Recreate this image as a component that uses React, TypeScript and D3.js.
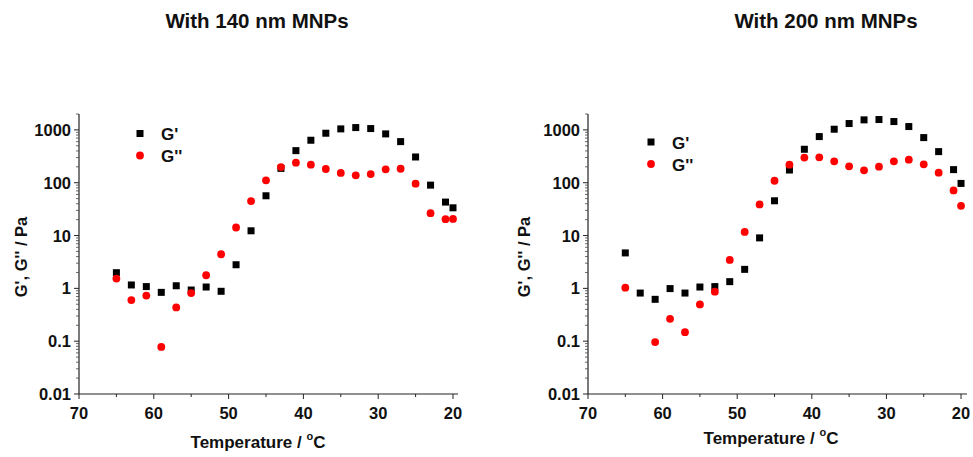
import React, { useEffect, useRef } from "react";
import * as d3 from "d3";

const temps = [65, 63, 61, 59, 57, 55, 53, 51, 49, 47, 45, 43, 41, 39, 37, 35, 33, 31, 29, 27, 25, 23, 21, 20];

// 140 nm MNPs
const g1Storage = [1.98, 1.16, 1.08, 0.84, 1.12, 0.93, 1.06, 0.88, 2.8, 12.3, 56.6, 187, 405, 637, 865, 1045, 1107, 1060, 840, 600, 307, 90, 43, 33.5];
const g1Loss = [1.53, 0.6, 0.73, 0.078, 0.436, 0.815, 1.77, 4.42, 14.2, 44.9, 111, 198, 240, 220, 182, 153, 138, 146, 179, 184, 96, 26.5, 20.4, 20.6];

// 200 nm MNPs (no G'' reading at 63 °C)
const g2Storage = [4.69, 0.815, 0.62, 0.99, 0.815, 1.06, 1.08, 1.34, 2.29, 9.03, 45.5, 174, 430, 747, 1030, 1320, 1549, 1571, 1439, 1157, 715, 388, 177, 97];
const g2Loss = [1.03, null, 0.096, 0.265, 0.148, 0.497, 0.865, 3.45, 11.7, 38.8, 109, 220, 299, 303, 254, 204, 172, 201, 254, 273, 223, 155, 71.5, 36.6];

const xTicks = [70, 60, 50, 40, 30, 20];
const yTicks = [0.01, 0.1, 1, 10, 100, 1000];
const legendLabels = ["G'", "G''"];
const titles = ["With 140 nm MNPs", "With 200 nm MNPs"];

const font = "Arial, 'Liberation Sans', sans-serif";

function drawPanel(svg, opts) {
  const { left, right, top, bottom, xEnd, storage, loss, title, titleX, legend, ylabelX, xlabelX, xlabelY } = opts;
  const g = svg.append("g");

  const x = d3.scaleLinear().domain([70, xEnd]).range([left, right]);
  const y = d3.scaleLog().domain([0.01, 2000]).range([bottom, top]);

  // axes lines
  g.append("line").attr("x1", left).attr("x2", left).attr("y1", top).attr("y2", bottom)
    .attr("stroke", "#222").attr("stroke-width", 1.2);
  g.append("line").attr("x1", left).attr("x2", right).attr("y1", bottom).attr("y2", bottom)
    .attr("stroke", "#222").attr("stroke-width", 1.2);

  // x ticks
  const xMinor = d3.range(65, 19, -10);
  g.selectAll(".xt").data(xTicks).enter().append("line")
    .attr("x1", (d) => x(d)).attr("x2", (d) => x(d))
    .attr("y1", bottom).attr("y2", bottom + 5).attr("stroke", "#222");
  g.selectAll(".xm").data(xMinor).enter().append("line")
    .attr("x1", (d) => x(d)).attr("x2", (d) => x(d))
    .attr("y1", bottom).attr("y2", bottom + 3).attr("stroke", "#222");
  g.selectAll(".xl").data(xTicks).enter().append("text")
    .attr("x", (d) => x(d)).attr("y", bottom + 25)
    .attr("text-anchor", "middle").attr("font-family", font).attr("font-weight", "bold")
    .attr("font-size", 16.5).attr("fill", "#111").text((d) => d);

  // y ticks
  const yMinor = [];
  yTicks.forEach((t) => {
    for (let k = 2; k <= 9; k++) if (t * k <= 2000) yMinor.push(t * k);
  });
  g.selectAll(".yt").data(yTicks).enter().append("line")
    .attr("x1", left - 5).attr("x2", left)
    .attr("y1", (d) => y(d)).attr("y2", (d) => y(d)).attr("stroke", "#222");
  g.selectAll(".ym").data(yMinor).enter().append("line")
    .attr("x1", left - 3).attr("x2", left)
    .attr("y1", (d) => y(d)).attr("y2", (d) => y(d)).attr("stroke", "#444").attr("stroke-width", 0.8);
  g.selectAll(".yl").data(yTicks).enter().append("text")
    .attr("x", left - 8).attr("y", (d) => y(d) + 6)
    .attr("text-anchor", "end").attr("font-family", font).attr("font-weight", "bold")
    .attr("font-size", 16.5).attr("fill", "#111").text((d) => String(d));

  // axis titles
  g.append("text")
    .attr("transform", `translate(${ylabelX},${(top + bottom) / 2 + 3}) rotate(-90)`)
    .attr("text-anchor", "middle").attr("font-family", font).attr("font-weight", "bold")
    .attr("font-size", 16.5).attr("fill", "#111").text("G', G'' / Pa");

  const xl = g.append("text")
    .attr("x", xlabelX).attr("y", xlabelY)
    .attr("text-anchor", "middle").attr("font-family", font).attr("font-weight", "bold")
    .attr("font-size", 17).attr("fill", "#111");
  xl.append("tspan").text("Temperature / ");
  xl.append("tspan").attr("font-size", 11).attr("dy", -8).text("o");
  xl.append("tspan").attr("dy", 8).text("C");

  // title
  g.append("text")
    .attr("x", titleX).attr("y", 28)
    .attr("text-anchor", "middle").attr("font-family", font).attr("font-weight", "bold")
    .attr("font-size", 20.5).attr("fill", "#111").text(title);

  // data
  const sq = 7;
  g.selectAll(".gs").data(temps.map((t, i) => [t, storage[i]])).enter().append("rect")
    .attr("x", (d) => x(d[0]) - sq / 2).attr("y", (d) => y(d[1]) - sq / 2)
    .attr("width", sq).attr("height", sq).attr("fill", "#000");
  g.selectAll(".gl").data(temps.map((t, i) => [t, loss[i]]).filter((d) => d[1] != null)).enter().append("circle")
    .attr("cx", (d) => x(d[0])).attr("cy", (d) => y(d[1]))
    .attr("r", 3.9).attr("fill", "#ff0000");

  // legend
  const [lx, ly] = legend;
  g.append("rect").attr("x", lx - sq / 2).attr("y", ly - sq / 2).attr("width", sq).attr("height", sq).attr("fill", "#000");
  g.append("circle").attr("cx", lx).attr("cy", ly + 22).attr("r", 3.9).attr("fill", "#ff0000");
  legendLabels.forEach((lab, i) => {
    g.append("text").attr("x", lx + 21).attr("y", ly + 6.5 + i * 22)
      .attr("font-family", font).attr("font-weight", "bold").attr("font-size", 17)
      .attr("fill", "#111").text(lab);
  });
}

export default function App() {
  const ref = useRef(null);
  useEffect(() => {
    const svg = d3.select(ref.current);
    svg.selectAll("*").remove();
    drawPanel(svg, {
      left: 79, right: 458, top: 114, bottom: 394, xEnd: 19.33,
      storage: g1Storage, loss: g1Loss, title: titles[0], titleX: 257,
      legend: [140, 133.5], ylabelX: 27, xlabelX: 258, xlabelY: 448,
    });
    drawPanel(svg, {
      left: 588, right: 967, top: 114, bottom: 394, xEnd: 19.2,
      storage: g2Storage, loss: g2Loss, title: titles[1], titleX: 826,
      legend: [651, 142], ylabelX: 530, xlabelX: 771, xlabelY: 444,
    });
  }, []);
  return (
    <svg ref={ref} width={973} height={457}
      style={{ position: "absolute", left: 0, top: 0, background: "#fff" }} />
  );
}
